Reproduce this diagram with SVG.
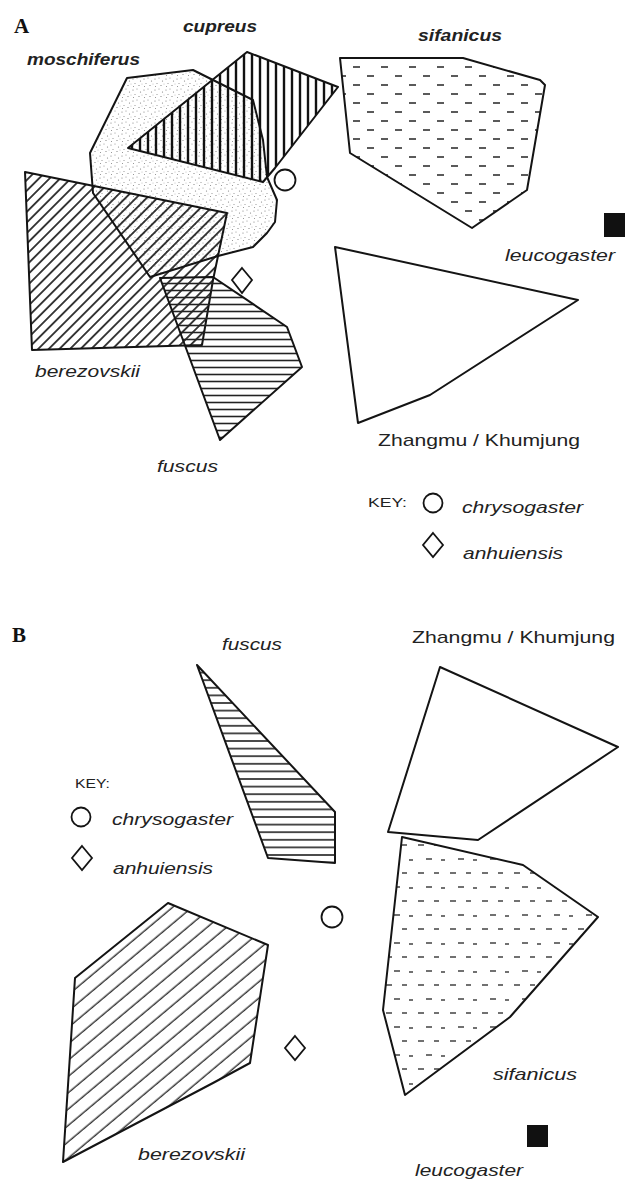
<svg xmlns="http://www.w3.org/2000/svg" width="625" height="1180" viewBox="0 0 625 1180">
<style>
.ol{fill:none;stroke:#141414;stroke-width:2;stroke-linejoin:round}
.lbl{font-family:"Liberation Sans",Arial,sans-serif;font-style:italic;font-size:17px;fill:#222}
.bd{font-weight:bold}
.rg{font-style:normal}
.key{font-family:"Liberation Sans",Arial,sans-serif;font-size:12px;fill:#222}
.pl{font-family:"Liberation Serif","Times New Roman",serif;font-weight:bold;font-size:21px;fill:#111}
.sym{fill:#fff;stroke:#141414;stroke-width:1.8}
</style>
<defs>
<pattern id="vh" patternUnits="userSpaceOnUse" width="8" height="8"><line x1="4" y1="0" x2="4" y2="8" stroke="#111" stroke-width="2.4"/></pattern>
<pattern id="dA" patternUnits="userSpaceOnUse" width="7.5" height="7.5" patternTransform="rotate(45)"><line x1="3.75" y1="0" x2="3.75" y2="7.5" stroke="#111" stroke-width="1.6"/></pattern>
<pattern id="dB" patternUnits="userSpaceOnUse" width="12.5" height="12.5" patternTransform="rotate(50)"><line x1="6" y1="0" x2="6" y2="12.5" stroke="#222" stroke-width="1.3"/></pattern>
<pattern id="hh" patternUnits="userSpaceOnUse" width="8" height="7"><line x1="0" y1="3.5" x2="8" y2="3.5" stroke="#222" stroke-width="1.6"/></pattern>
<pattern id="hhB" patternUnits="userSpaceOnUse" width="8" height="7.6"><line x1="0" y1="3.8" x2="8" y2="3.8" stroke="#222" stroke-width="1.6"/></pattern>
<pattern id="dash" patternUnits="userSpaceOnUse" width="28" height="18"><g stroke="#222" stroke-width="1.5"><line x1="3" y1="4" x2="10" y2="4"/><line x1="17" y1="13" x2="24" y2="13"/></g></pattern>
<pattern id="dashB" patternUnits="userSpaceOnUse" width="32" height="28"><g stroke="#333" stroke-width="1.4"><line x1="2" y1="5" x2="8" y2="5"/><line x1="18" y1="5" x2="23" y2="5"/><line x1="10" y1="19" x2="16" y2="19"/><line x1="25" y1="20" x2="29" y2="20"/></g></pattern>
<pattern id="dots" patternUnits="userSpaceOnUse" width="11" height="11"><g fill="#777"><circle cx="1" cy="2" r="0.6"/><circle cx="5" cy="1" r="0.5"/><circle cx="8.5" cy="4" r="0.6"/><circle cx="3" cy="6.5" r="0.5"/><circle cx="7" cy="8.5" r="0.6"/><circle cx="1.5" cy="9.5" r="0.5"/><circle cx="10" cy="7" r="0.4"/></g></pattern>
</defs>

<g id="panelA-label"><text class="pl" x="14" y="33">A</text></g>

<g id="A-moschiferus">
<polygon points="127,78 193,70 213,80 253,100 263,140 267,177 277,200 275,222 267,233 253,247 218,256 150,277 93,193 90,153" fill="url(#dots)"/>
<polygon class="ol" points="127,78 193,70 213,80 253,100 263,140 267,177 277,200 275,222 267,233 253,247 218,256 150,277 93,193 90,153"/>
<text class="lbl bd" x="27" y="65" textLength="113" lengthAdjust="spacingAndGlyphs">moschiferus</text>
</g>

<g id="A-cupreus">
<polygon points="247,52 338,87 275,168 263,182 128,148" fill="url(#vh)"/>
<polygon class="ol" points="247,52 338,87 275,168 263,182 128,148"/>
<text class="lbl bd" x="183" y="32" textLength="74" lengthAdjust="spacingAndGlyphs">cupreus</text>
</g>

<g id="A-berezovskii">
<polygon points="25,172 227,213 213,280 202,345 32,350" fill="url(#dA)"/>
<polygon class="ol" points="25,172 227,213 213,280 202,345 32,350"/>
<text class="lbl" x="35" y="377" textLength="105" lengthAdjust="spacingAndGlyphs">berezovskii</text>
</g>

<g id="A-fuscus">
<polygon points="160,278 213,277 287,327 302,367 220,440" fill="url(#hh)"/>
<polygon class="ol" points="160,278 213,277 287,327 302,367 220,440"/>
<text class="lbl" x="157" y="472" textLength="61" lengthAdjust="spacingAndGlyphs">fuscus</text>
</g>

<g id="A-sifanicus">
<polygon points="340,58 463,58 540,80 545,85 527,190 472,228 350,153" fill="url(#dash)"/>
<polygon class="ol" points="340,58 463,58 540,80 545,85 527,190 472,228 350,153"/>
<text class="lbl bd" x="418" y="41" textLength="84" lengthAdjust="spacingAndGlyphs">sifanicus</text>
</g>

<g id="A-leucogaster">
<rect x="604" y="213" width="21" height="24" fill="#111"/>
<text class="lbl" x="505" y="261" textLength="110" lengthAdjust="spacingAndGlyphs">leucogaster</text>
</g>

<g id="A-zhangmu">
<polygon class="ol" points="335,247 578,300 430,395 358,423"/>
<text class="lbl rg" x="378" y="446" textLength="202" lengthAdjust="spacingAndGlyphs">Zhangmu / Khumjung</text>
</g>

<g id="A-chrysogaster"><circle class="sym" cx="285" cy="180" r="10.5"/></g>
<g id="A-anhuiensis"><polygon class="sym" points="242,268 252,280 242,293 232,280"/></g>

<g id="A-key">
<text class="key" x="368" y="507" textLength="39" lengthAdjust="spacingAndGlyphs">KEY:</text>
<circle class="sym" cx="433" cy="503" r="9.5"/>
<text class="lbl" x="462" y="513" textLength="121" lengthAdjust="spacingAndGlyphs">chrysogaster</text>
<polygon class="sym" points="433,533 443,545 433,557 423,545"/>
<text class="lbl" x="463" y="559" textLength="100" lengthAdjust="spacingAndGlyphs">anhuiensis</text>
</g>

<g id="panelB-label"><text class="pl" x="12" y="642">B</text></g>

<g id="B-fuscus">
<polygon points="197,665 335,812 335,863 268,858" fill="url(#hhB)"/>
<polygon class="ol" points="197,665 335,812 335,863 268,858"/>
<text class="lbl" x="222" y="650" textLength="60" lengthAdjust="spacingAndGlyphs">fuscus</text>
</g>

<g id="B-zhangmu">
<polygon class="ol" points="440,667 618,747 478,840 388,832"/>
<text class="lbl rg" x="412" y="643" textLength="203" lengthAdjust="spacingAndGlyphs">Zhangmu / Khumjung</text>
</g>

<g id="B-sifanicus">
<polygon points="402,837 523,865 598,917 510,1017 405,1095 383,1010" fill="url(#dashB)"/>
<polygon class="ol" points="402,837 523,865 598,917 510,1017 405,1095 383,1010"/>
<text class="lbl" x="493" y="1080" textLength="84" lengthAdjust="spacingAndGlyphs">sifanicus</text>
</g>

<g id="B-berezovskii">
<polygon points="168,903 268,945 250,1063 213,1083 63,1162 75,978" fill="url(#dB)"/>
<polygon class="ol" points="168,903 268,945 250,1063 213,1083 63,1162 75,978"/>
<text class="lbl" x="138" y="1160" textLength="107" lengthAdjust="spacingAndGlyphs">berezovskii</text>
</g>

<g id="B-leucogaster">
<rect x="527" y="1125" width="21" height="22" fill="#111"/>
<text class="lbl" x="415" y="1176" textLength="108" lengthAdjust="spacingAndGlyphs">leucogaster</text>
</g>

<g id="B-chrysogaster"><circle class="sym" cx="332" cy="917" r="10.5"/></g>
<g id="B-anhuiensis"><polygon class="sym" points="295,1036 305,1048 295,1060 285,1048"/></g>

<g id="B-key">
<text class="key" x="75" y="788" textLength="35" lengthAdjust="spacingAndGlyphs">KEY:</text>
<circle class="sym" cx="81" cy="817" r="9.5"/>
<text class="lbl" x="112" y="825" textLength="121" lengthAdjust="spacingAndGlyphs">chrysogaster</text>
<polygon class="sym" points="82,846 92,858 82,870 72,858"/>
<text class="lbl" x="113" y="874" textLength="100" lengthAdjust="spacingAndGlyphs">anhuiensis</text>
</g>

<g id="connectors"></g>
</svg>
